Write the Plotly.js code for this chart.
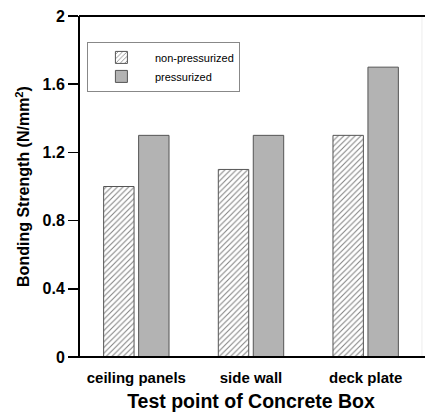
<!DOCTYPE html>
<html>
<head>
<meta charset="utf-8">
<script src="https://cdn.plot.ly/plotly-3.0.1.min.js"></script>
<style>html,body{margin:0;padding:0;background:#fff;overflow:hidden;}#chart{width:425px;height:414px;}</style>
</head>
<body>
<div id="chart"></div>
<script>
const categories = ["ceiling panels", "side wall", "deck plate"];
const nonPressurized = [1.0, 1.1, 1.3];
const pressurized = [1.3, 1.3, 1.7];
const yTicks = [0, 0.4, 0.8, 1.2, 1.6, 2];
const yTickText = ["0", "0.4", "0.8", "1.2", "1.6", "2"];

const font = "Liberation Sans, Arial, sans-serif";

const traces = [
  {
    type: "bar", name: "non-pressurized", x: categories, y: nonPressurized,
    marker: {
      color: "#ffffff",
      line: {color: "#555555", width: 1},
      pattern: {shape: "/", fgcolor: "#808080", bgcolor: "#ffffff", size: 4, solidity: 0.25}
    }
  },
  {
    type: "bar", name: "pressurized", x: categories, y: pressurized,
    marker: {color: "#b3b3b3", line: {color: "#555555", width: 1}}
  }
];

const layout = {
  width: 425, height: 414,
  margin: {l: 79, r: 2, t: 16, b: 57},
  paper_bgcolor: "#ffffff", plot_bgcolor: "#ffffff",
  barmode: "group", bargap: 0.39, bargroupgap: 0.13,
  font: {family: font, color: "#000"},
  showlegend: true,
  legend: {
    x: 0.023, y: 0.924, xanchor: "left", yanchor: "top",
    bordercolor: "#888888", borderwidth: 1, bgcolor: "#ffffff",
    font: {family: font, size: 11, color: "#000"},
    itemwidth: 57, tracegroupgap: 0
  },
  shapes: [
    {type: "rect", xref: "paper", yref: "paper", x0: 0.975, x1: 1.02, y0: -0.005, y1: 1.005,
     fillcolor: "#ffffff", line: {width: 0}, layer: "above"},
    {type: "line", xref: "paper", yref: "paper", x0: 0.997, x1: 0.997, y0: 0, y1: 1,
     line: {color: "#ededed", width: 1}, layer: "above"},
    {type: "line", xref: "paper", yref: "paper", x0: 0, x1: 1.01, y0: 1, y1: 1,
     line: {color: "#000", width: 2}, layer: "above"},
    {type: "line", xref: "paper", yref: "paper", x0: -0.003, x1: 1.01, y0: 0, y1: 0,
     line: {color: "#000", width: 2}, layer: "above"},
    {type: "line", xref: "paper", yref: "paper", x0: 0, x1: 0, y0: 0, y1: 1,
     line: {color: "#000", width: 2}, layer: "above"}
  ],
  xaxis: {
    type: "category", automargin: false, mirror: false,
    showline: false,
    ticks: "", showgrid: false, zeroline: false,
    ticklabelstandoff: 10,
    tickfont: {family: font, size: 15, color: "#000", weight: "bold"},
    title: {text: "<b>Test point of Concrete Box</b>", font: {family: font, size: 19.5, color: "#000"}, standoff: 9}
  },
  yaxis: {
    range: [0, 2], tickvals: yTicks, ticktext: yTickText, automargin: false, mirror: false,
    showline: false,
    ticks: "outside", ticklen: 10, tickwidth: 1.5, tickcolor: "#000",
    showgrid: false, zeroline: false,
    tickfont: {family: font, size: 16, color: "#000", weight: "bold"},
    title: {text: "<b>Bonding Strength (N/mm<sup>2</sup>)</b>", font: {family: font, size: 16, color: "#000"}, standoff: 8}
  }
};

Plotly.newPlot("chart", traces, layout, {displayModeBar: false, staticPlot: true});
</script>
</body>
</html>
